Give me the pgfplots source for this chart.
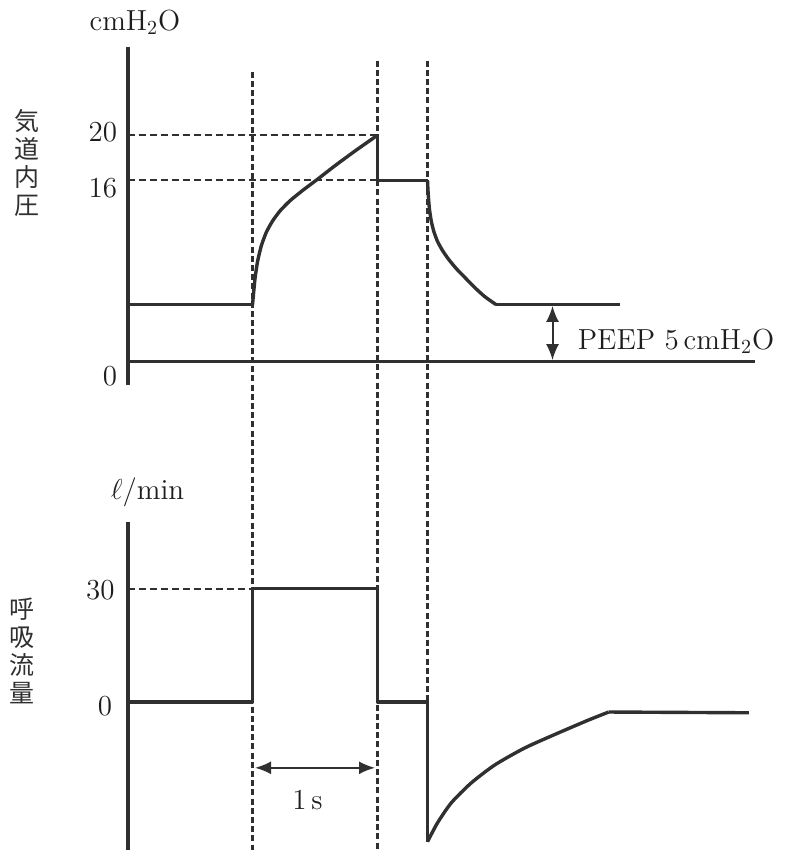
\documentclass[border=0pt]{standalone}
\usepackage{fontspec}
\newfontfamily\jp{Noto Sans CJK JP}
\usepackage{pgfplots}
\pgfplotsset{compat=1.18}
\usetikzlibrary{arrows.meta}
\definecolor{ink}{HTML}{303030}
\definecolor{txt}{HTML}{1E1E1E}
\begin{document}
\begin{tikzpicture}[font=\fontsize{14.5}{17}\selectfont, every node/.style={text=txt}]
% ---------- top: airway pressure ----------
\begin{axis}[
  at={(63.75pt,232.5pt)}, anchor=south west,
  scale only axis, width=331.25pt, height=169pt,
  xmin=-1, xmax=4.3, ymin=-2.1, ymax=27.8,
  axis x line=none, axis y line=left,
  axis line style={-, line width=2pt, ink},
  ytick=\empty, clip=false,
]
\draw[ink, line width=1.05pt, dash pattern=on 3.5pt off 2pt] (axis cs:-1,20) -- (axis cs:1.02,20);
\draw[ink, line width=1.05pt, dash pattern=on 3.5pt off 2pt] (axis cs:-1,16) -- (axis cs:1.0,16);
\draw[ink, line width=1.05pt, dash pattern=on 3pt off 1.6pt] (axis cs:0,25.6) -- (axis cs:0,-43.3);
\draw[ink, line width=1.05pt, dash pattern=on 3pt off 1.6pt] (axis cs:1,26.6) -- (axis cs:1,-43.3);
\draw[ink, line width=1.05pt, dash pattern=on 3pt off 1.6pt] (axis cs:1.4,26.6) -- (axis cs:1.4,-30.2);
\addplot[ink, line width=1.5pt, line join=round] coordinates {(-1,0) (4.02,0)};
\addplot[ink, line width=1.7pt, smooth, tension=0.35, line join=round] coordinates {
 (0,5) (0.02,7.3) (0.04,8.8) (0.07,10.2) (0.11,11.4) (0.16,12.4) (0.22,13.3) (0.30,14.2) (0.40,15.1) (0.52,16.1) (0.66,17.3) (0.82,18.6) (1.0,20.0)};
\addplot[ink, line width=1.7pt, line join=round] coordinates {(-1,5) (0,5)};
\addplot[ink, line width=1.7pt, line join=round] coordinates {(1.0,20) (1.0,16) (1.4,16)};
\addplot[ink, line width=1.7pt, smooth, tension=0.35] coordinates {
 (1.40,16) (1.405,14.9) (1.415,13.5) (1.43,12.4) (1.45,11.5) (1.48,10.6) (1.52,9.8) (1.57,9.0) (1.63,8.2) (1.70,7.4) (1.78,6.5) (1.86,5.7) (1.95,5.0)};
\addplot[ink, line width=1.7pt] coordinates {(1.95,5) (2.94,5)};
\draw[ink, line width=1pt, {Latex[length=8pt,width=6.5pt]}-{Latex[length=8pt,width=6.5pt]}] (axis cs:2.40,0.1) -- (axis cs:2.40,4.9);
\node[anchor=west, inner sep=0pt] at (axis cs:2.60,1.77) {PEEP 5\,cmH$_2$O};
\node[anchor=east, inner sep=0pt] at (axis cs:-1.08,20.27) {20};
\node[anchor=east, inner sep=0pt] at (axis cs:-1.08,15.3) {16};
\node[anchor=east, inner sep=0pt] at (axis cs:-1.08,-1.33) {0};
\node[inner sep=0pt] at (axis cs:-0.94,30.0) {cmH$_2$O};
\node[inner sep=0pt, align=center, font=\jp\fontsize{12.5}{14}\selectfont, text=ink] at (axis cs:-1.80,17.5) {気\\道\\内\\圧};
\end{axis}
% ---------- bottom: flow ----------
\begin{axis}[
  at={(63.75pt,0pt)}, anchor=south west,
  scale only axis, width=331.25pt, height=164pt,
  xmin=-1, xmax=4.3, ymin=-39.3, ymax=47.7,
  axis x line=none, axis y line=left,
  axis line style={-, line width=2pt, ink},
  ytick=\empty, clip=false,
]
\draw[ink, line width=1.05pt, dash pattern=on 3.5pt off 2pt] (axis cs:-1,30) -- (axis cs:0,30);
\addplot[ink, line width=1.7pt, line join=round] coordinates {(-1,0) (0,0) (0,30) (1,30) (1,0) (1.4,0) (1.4,-37.1)};
\addplot[ink, line width=1.7pt, smooth, tension=0.4] coordinates {
 (1.4,-37.1) (1.48,-32.1) (1.59,-26.8) (1.75,-21.5) (1.94,-16.7) (2.18,-12.2) (2.45,-8.2) (2.69,-4.8) (2.85,-2.7)};
\addplot[ink, line width=1.7pt] coordinates {(2.85,-2.7) (3.97,-2.9)};
\draw[ink, line width=1pt, {Latex[length=8pt,width=6.5pt]}-{Latex[length=8pt,width=6.5pt]}] (axis cs:0.02,-17.5) -- (axis cs:0.98,-17.5);
\node[inner sep=0pt] at (axis cs:0.44,-26) {1\,s};
\node[anchor=east, inner sep=0pt] at (axis cs:-1.10,29.7) {30};
\node[anchor=east, inner sep=0pt] at (axis cs:-1.12,-1.06) {0};
\node[inner sep=0pt] at (axis cs:-0.84,55.7) {$\ell$/min};
\node[inner sep=0pt, align=center, font=\jp\fontsize{12.5}{14}\selectfont, text=ink] at (axis cs:-1.84,13.5) {呼\\吸\\流\\量};
\end{axis}
\pgfresetboundingbox
\path[use as bounding box] (0,0) rectangle (394.5pt,425pt);
\end{tikzpicture}
\end{document}
